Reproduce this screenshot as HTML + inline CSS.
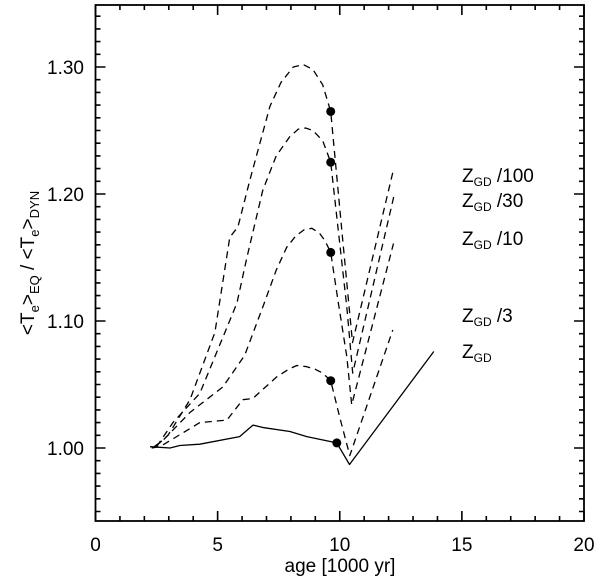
<!DOCTYPE html>
<html><head><meta charset="utf-8"><style>
body{margin:0;background:#fff;}
svg{display:block;font-family:"Liberation Sans",Arial,sans-serif;}
</style></head><body>
<svg id="chart" width="600" height="576" viewBox="0 0 600 576" xmlns="http://www.w3.org/2000/svg">
<g id="marks"></g>
<g id="axes"></g>
<text x="340" y="572" font-size="19" text-anchor="middle">age [1000 yr]</text>
<text transform="translate(34,263) rotate(-90)" font-size="19" text-anchor="middle">&lt;T<tspan font-size="13" dy="5">e</tspan><tspan dy="-5">&gt;</tspan><tspan font-size="13" dy="5">EQ</tspan><tspan dy="-5"> / &lt;T</tspan><tspan font-size="13" dy="5">e</tspan><tspan dy="-5">&gt;</tspan><tspan font-size="13" dy="5">DYN</tspan></text>
<g font-size="19">
<text x="462" y="182">Z<tspan font-size="12" dy="4">GD</tspan><tspan dy="-4"> /100</tspan></text>
<text x="462" y="207">Z<tspan font-size="12" dy="4">GD</tspan><tspan dy="-4"> /30</tspan></text>
<text x="462" y="245">Z<tspan font-size="12" dy="4">GD</tspan><tspan dy="-4"> /10</tspan></text>
<text x="462" y="322">Z<tspan font-size="12" dy="4">GD</tspan><tspan dy="-4"> /3</tspan></text>
<text x="462" y="358">Z<tspan font-size="12" dy="4">GD</tspan></text>
</g>
</svg>
<script>
const xTicks=[0,5,10,15,20];
const yTicks=[1.00,1.10,1.20,1.30];
const yTickLabels=["1.00","1.10","1.20","1.30"];
const z100X=[2.5,2.97,3.87,4.89,5.5,5.83,6.32,7.14,7.6,8.1,8.5,8.9,9.3,9.63,10.12,10.52,12.17];
const z100Y=[1.002,1.010,1.038,1.091,1.166,1.174,1.211,1.269,1.288,1.300,1.302,1.298,1.286,1.265,1.164,1.083,1.217];
const z30X=[2.5,3.17,4.27,5.79,6.2,6.85,7.4,7.95,8.3,8.6,8.9,9.3,9.63,10.29,10.53,12.25];
const z30Y=[1.001,1.020,1.043,1.114,1.150,1.203,1.230,1.245,1.251,1.252,1.250,1.242,1.225,1.111,1.059,1.201];
const z10X=[2.4,2.76,3.87,5.21,6.11,6.85,7.4,7.83,8.2,8.55,8.86,9.18,9.4,9.63,9.92,10.29,10.49,12.2];
const z10Y=[1.001,1.006,1.028,1.048,1.073,1.111,1.140,1.158,1.167,1.172,1.173,1.169,1.163,1.154,1.117,1.072,1.034,1.161];
const z3X=[2.3,2.64,4.27,5.38,6.03,6.44,7.42,7.9,8.24,8.65,9.0,9.3,9.63,10.0,10.41,12.17];
const z3Y=[1.000,1.001,1.020,1.022,1.038,1.039,1.056,1.062,1.065,1.064,1.062,1.059,1.053,1.024,0.994,1.093];
const zgdX=[2.23,3.05,3.45,4.27,5.9,6.45,6.9,7.96,8.65,9.88,10.4,13.85];
const zgdY=[1.001,1.000,1.002,1.003,1.009,1.018,1.016,1.013,1.009,1.004,0.987,1.076];
const dotX=[9.63,9.63,9.63,9.63,9.88];
const dotY=[1.265,1.225,1.154,1.053,1.004];

const L=95.5,R=584,T=5,B=521;
function sx(v){return L+v*(R-L)/20;}
function sy(v){return 448-(v-1)*1270;}
const NS="http://www.w3.org/2000/svg";
const marks=document.getElementById('marks'),axes=document.getElementById('axes');
function mk(tag,attrs,parent){const e=document.createElementNS(NS,tag);for(const k in attrs)e.setAttribute(k,attrs[k]);parent.appendChild(e);return e;}
function series(xs,ys,name,dash){
  const d=xs.map((x,i)=>(i?'L':'M')+sx(x).toFixed(1)+' '+sy(ys[i]).toFixed(1)).join(' ');
  const p=mk('path',{d:d,fill:'none',stroke:'#000','stroke-width':'1.3','stroke-linejoin':'round'},marks);
  if(dash)p.setAttribute('stroke-dasharray','7 5');
  
  
}
series(z100X,z100Y,'line-zgd-100',true);
series(z30X,z30Y,'line-zgd-30',true);
series(z10X,z10Y,'line-zgd-10',true);
series(z3X,z3Y,'line-zgd-3',true);
series(zgdX,zgdY,'line-zgd',false);
dotX.forEach((x,i)=>{
  const c=mk('circle',{cx:sx(x),cy:sy(dotY[i]),r:4.5,fill:'#000'},marks);
  
  
});
const frame=mk('rect',{x:L,y:T,width:R-L,height:B-T,fill:'none',stroke:'#000','stroke-width':'1.8'},axes);


let td='';
for(let v=0;v<=20;v++){const x=sx(v);const len=(v%5===0)?10:5;td+=`M${x} ${B}V${B-len}M${x} ${T}V${T+len}`;}
for(let k=95;k<=134;k++){const v=k/100;const y=sy(v);const len=(k%10===0)?10:5;td+=`M${L} ${y}H${L+len}M${R} ${y}H${R-len}`;}
const tk=mk('path',{d:td,stroke:'#000','stroke-width':'1.6',fill:'none'},axes);


xTicks.forEach(v=>{
  const t=mk('text',{x:sx(v),y:551,'font-size':'19','text-anchor':'middle'},axes);
  t.textContent=String(v);
  
  
});
yTicks.forEach((v,i)=>{
  const t=mk('text',{x:84,y:sy(v)+7,'font-size':'19','text-anchor':'end'},axes);
  t.textContent=yTickLabels[i];
  
  
});
</script>
</body></html>
